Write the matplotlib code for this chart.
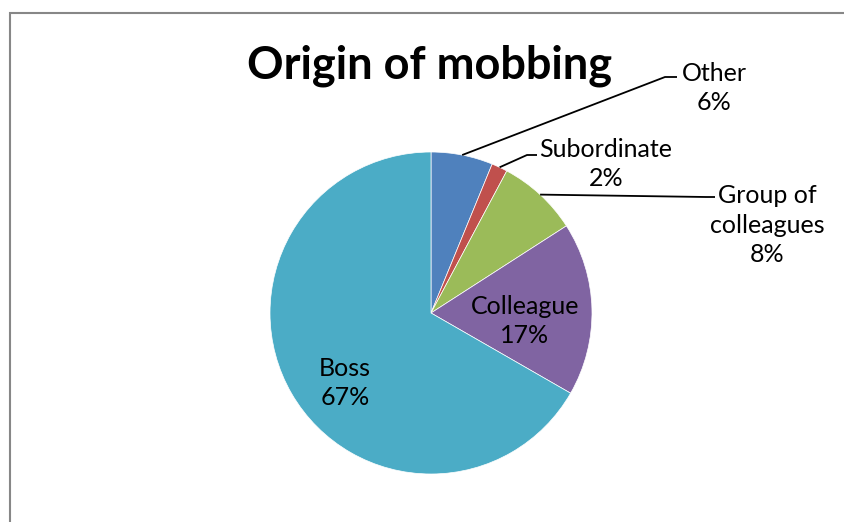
import numpy as np
import matplotlib.pyplot as plt
from matplotlib.patches import Rectangle

# slices, clockwise from 12 o'clock
labels = ["Other", "Subordinate", "Group of\ncolleagues", "Colleague", "Boss"]
values = [6.2, 1.6, 8.1, 17.4, 66.7]
colors = ["#4F81BD", "#C0504D", "#9BBB59", "#8064A2", "#4BACC6"]
title = "Origin of mobbing"

plt.rcParams['font.family'] = ['Lato', 'DejaVu Sans']

W, H = 845, 522
fig = plt.figure(figsize=(W / 100, H / 100), dpi=100)
ax = fig.add_axes([0, 0, 1, 1])

cx, cy, r = 431, H - 313, 161
wedges, _ = ax.pie(values, colors=colors, startangle=90, counterclock=False,
                   center=(cx, cy), radius=r,
                   wedgeprops=dict(edgecolor="white", linewidth=0.5))
ax.set_xlim(0, W)
ax.set_ylim(0, H)
ax.set_aspect("equal")
ax.axis("off")

# label text positions (pixels from top-left), and leader elbows for outside ones
text_pos = [(714, 88), (606, 164), (767, 225), (525, 321), (345, 383)]
elbows = [[(665, 77), (677, 77)],
          [(527, 155), (537, 155)],
          [(706, 197), (715, 197)],
          None, None]

for w, lab, v, tp, el in zip(wedges, labels, values, text_pos, elbows):
    txt = "%s\n%d%%" % (lab, round(v))
    ax.text(tp[0], H - tp[1], txt, ha="center", va="center", fontsize=18,
            linespacing=1.36, color="black")
    if el is not None:
        a = np.deg2rad((w.theta1 + w.theta2) / 2)
        xs = [cx + r * np.cos(a)] + [p[0] for p in el]
        ys = [cy + r * np.sin(a)] + [H - p[1] for p in el]
        ax.plot(xs, ys, color="black", linewidth=1.3, solid_capstyle="butt")

ax.text(430, H - 66, title, ha="center", va="center", fontsize=32.5,
        fontweight="bold", color="black")

# chart frame (left and top edges visible)
fig.patches.append(Rectangle((10 / W, -0.1), 1.2, (H - 13) / H + 0.1,
                             transform=fig.transFigure, fill=False,
                             edgecolor="#878787", linewidth=1.5))

fig.savefig("out.png", dpi=100)
